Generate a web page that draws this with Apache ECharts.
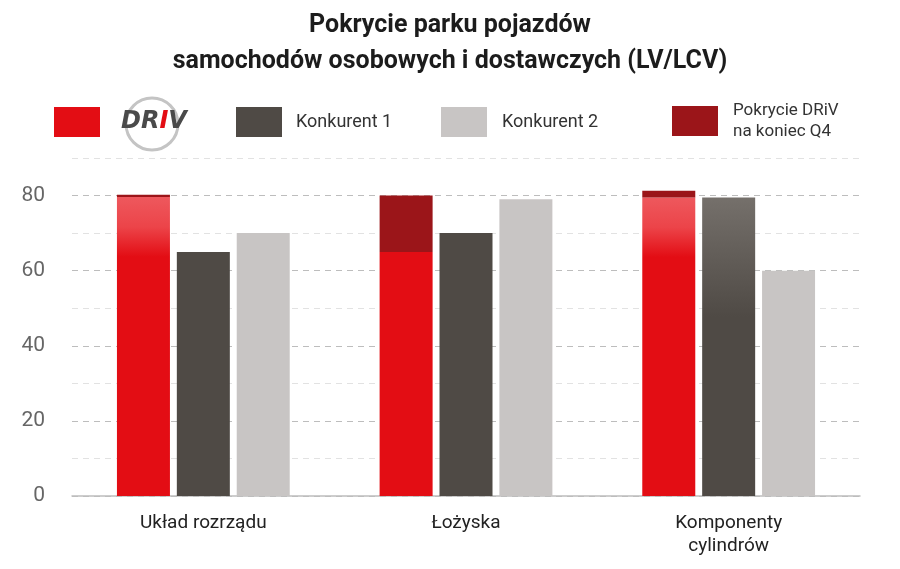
<!DOCTYPE html>
<html>
<head>
<meta charset="utf-8">
<script src="https://cdn.jsdelivr.net/npm/echarts@6/dist/echarts.min.js"></script>
<style>
  html, body { margin: 0; padding: 0; background: #fff; }
  #chart { width: 900px; height: 569px; }
</style>
</head>
<body>
<div id="chart"></div>
<script>
const categories = ['Układ rozrządu', 'Łożyska', 'Komponenty\ncylindrów'];
const drivValues = [79.6, 65, 79.5];
const drivQ4Values = [80.2, 80, 81.3];
const konkurent1Values = [65, 70, 79.5];
const konkurent2Values = [70, 79, 60];
const yTicks = [0, 20, 40, 60, 80];

const FONT = 'Roboto, "Noto Sans", sans-serif';
const RED = '#e30d14';
const DARK_RED = '#9b1519';
const DARK = '#4f4a45';
const LIGHT = '#c8c5c4';

// bars that carry the glossy highlight at the top
const redGloss = new echarts.graphic.LinearGradient(0, 0, 0, 1, [
    { offset: 0, color: '#ee585d' },
    { offset: 0.1, color: '#ec4449' },
    { offset: 0.2, color: RED },
    { offset: 1, color: RED },
]);
const darkGloss = new echarts.graphic.LinearGradient(0, 0, 0, 1, [
    { offset: 0, color: '#75706b' },
    { offset: 0.4, color: DARK },
    { offset: 1, color: DARK },
]);

const chart = echarts.init(document.getElementById('chart'));

const legendBase = {
    top: 107,
    padding: 0,
    icon: 'rect',
    itemWidth: 46,
    itemHeight: 30,
    textStyle: { fontFamily: FONT, fontSize: 18, color: '#333' },
};

chart.setOption({
    animation: false,
    textStyle: { fontFamily: FONT },
    title: {
        text: 'Pokrycie parku pojazdów\nsamochodów osobowych i dostawczych (LV/LCV)',
        left: 'center',
        top: 3,
        textStyle: { fontSize: 25, fontWeight: 'bold', color: '#1c1c1c', lineHeight: 36 },
    },
    // ring of the DRiV logo behind the legend text
    graphic: [{
        type: 'circle',
        shape: { cx: 152, cy: 124, r: 26 },
        style: { fill: 'none', stroke: '#c4c4c4', lineWidth: 3 },
        z: 1,
    }],
    legend: [
        {
            ...legendBase,
            left: 54,
            data: ['DRiV'],
            formatter: () => '{d|DR}{i|I}{d|V}',
            textStyle: {
                padding: [0, 0, 0, 16],
                rich: {
                    d: { fontFamily: 'DejaVu Sans', fontSize: 24, fontWeight: 'bold', fontStyle: 'italic', color: '#4a4a4a' },
                    i: { fontFamily: 'DejaVu Sans', fontSize: 24, fontWeight: 'bold', fontStyle: 'italic', color: RED },
                },
            },
        },
        { ...legendBase, left: 236, data: ['Konkurent 1'], textStyle: { ...legendBase.textStyle, padding: [0, 0, 0, 9] } },
        { ...legendBase, left: 441, data: ['Konkurent 2'], textStyle: { ...legendBase.textStyle, padding: [0, 0, 0, 10] } },
        {
            ...legendBase,
            left: 672,
            top: 100,
            data: ['Pokrycie DRiV na koniec Q4'],
            formatter: () => 'Pokrycie DRiV\nna koniec Q4',
            textStyle: { ...legendBase.textStyle, fontSize: 17, lineHeight: 21, padding: [0, 0, 0, 10] },
        },
    ],
    grid: { left: 72, right: 40, top: 158, bottom: 73 },
    xAxis: {
        type: 'category',
        data: categories,
        axisLine: { lineStyle: { color: '#bdbdbd', width: 1.5 } },
        axisTick: { show: false },
        axisLabel: { fontSize: 19, color: '#222', lineHeight: 23, margin: 16 },
    },
    yAxis: {
        type: 'value',
        min: 0,
        max: 90,
        interval: 10,
        axisLine: { show: false },
        axisTick: { show: false },
        axisLabel: {
            fontSize: 21,
            color: '#666',
            margin: 27,
            formatter: v => (yTicks.includes(v) ? String(v) : ''),
        },
        splitLine: { lineStyle: { type: [6, 5], color: ['#bdbdbd', '#e2e2e2'], width: 1 } },
    },
    series: [
        {
            name: 'DRiV',
            type: 'bar',
            stack: 'driv',
            barWidth: 53,
            barGap: '13%',
            itemStyle: { color: RED },
            data: drivValues.map((v, i) => (i === 1 ? v : { value: v, itemStyle: { color: redGloss } })),
            z: 3,
        },
        {
            name: 'Pokrycie DRiV na koniec Q4',
            type: 'bar',
            stack: 'driv',
            barWidth: 53,
            itemStyle: { color: DARK_RED },
            data: drivQ4Values.map((v, i) => +(v - drivValues[i]).toFixed(2)),
            z: 3,
        },
        {
            name: 'Konkurent 1',
            type: 'bar',
            barWidth: 53,
            itemStyle: { color: DARK },
            data: konkurent1Values.map((v, i) => (i === 2 ? { value: v, itemStyle: { color: darkGloss } } : v)),
            z: 3,
        },
        {
            name: 'Konkurent 2',
            type: 'bar',
            barWidth: 53,
            itemStyle: { color: LIGHT },
            data: konkurent2Values,
            z: 3,
        },
    ],
});
</script>
</body>
</html>
